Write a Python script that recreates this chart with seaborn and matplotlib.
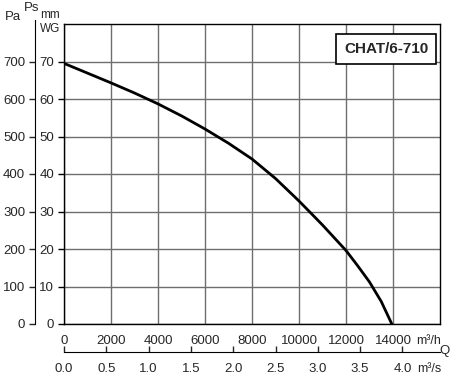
import numpy as np
import pandas as pd
import matplotlib
matplotlib.use("Agg")
import matplotlib.pyplot as plt
import seaborn as sns

# curve (Q in m3/h, Ps in Pa)
flow_m3h = [0, 1000, 2000, 3000, 4000, 5000, 6000, 7000, 8000, 9000,
            10000, 11000, 12000, 12500, 13000, 13500, 13950]
pressure_pa = [695, 669, 643, 616, 587, 555, 520, 482, 440, 388,
               328, 264, 196, 155, 112, 60, 0]

x_ticks = [0, 2000, 4000, 6000, 8000, 10000, 12000, 14000]
pa_ticks = [0, 100, 200, 300, 400, 500, 600, 700]
mm_labels = ["0", "10", "20", "30", "40", "50", "60", "70"]
s_ticks = [0.0, 0.5, 1.0, 1.5, 2.0, 2.5, 3.0, 3.5, 4.0]
model_name = "CHAT/6-710"

sns.set_style("white")
plt.rcParams["font.family"] = ["Liberation Sans", "DejaVu Sans"]
fs = 9.5

W, H = 450, 377
fig = plt.figure(figsize=(W / 100, H / 100), dpi=100)
ax = fig.add_axes([64 / W, (H - 324) / H, 376 / W, 300 / H])

df = pd.DataFrame({"q": flow_m3h, "ps": pressure_pa})
sns.lineplot(data=df, x="q", y="ps", ax=ax, color="black", lw=2.0, zorder=5)

ax.set_xlim(0, 16000)
ax.set_ylim(0, 800)
ax.set_xticks(x_ticks)
ax.set_yticks(pa_ticks)
ax.set_yticklabels(mm_labels)
ax.set_xlabel("")
ax.set_ylabel("")
ax.grid(True, color="#6e6e6e", lw=1.0)
for s in ax.spines.values():
    s.set_visible(True)
    s.set_color("black")
    s.set_linewidth(1.0)
ax.tick_params(axis="both", direction="out", length=4, width=1, color="black",
               labelsize=fs, pad=3)
ax.tick_params(axis="x", pad=4)

# Pa axis on the far left
ax_pa = ax.twinx()
ax_pa.set_ylim(0, 800)
ax_pa.set_yticks(pa_ticks)
ax_pa.yaxis.set_ticks_position("left")
ax_pa.yaxis.set_label_position("left")
ax_pa.spines["left"].set_position(("axes", -29 / 376))
ax_pa.spines["left"].set_bounds(0, 810)
for k in ["right", "top", "bottom"]:
    ax_pa.spines[k].set_visible(False)
ax_pa.spines["left"].set_color("black")
ax_pa.tick_params(axis="y", direction="out", length=4, width=1, labelsize=fs, pad=3)
ax_pa.grid(False)

# secondary flow axis in m3/s
sec = ax.secondary_xaxis(-28 / 300, functions=(lambda q: q / 3600, lambda s: s * 3600))
sec.set_xticks(s_ticks)
sec.set_xticklabels([f"{v:.1f}" for v in s_ticks])
sec.tick_params(axis="x", direction="in", length=4, width=1, labelsize=fs, pad=8)
sec.spines["bottom"].set_color("black")

# axis unit labels
fig.text(13 / W, 1 - 17 / H, "Pa", ha="center", va="center", fontsize=fs)
fig.text(32 / W, 1 - 8 / H, "Ps", ha="center", va="center", fontsize=fs)
fig.text(50 / W, 1 - 22 / H, "mm\nWG", ha="center", va="center", fontsize=8.5,
         linespacing=1.15)
fig.text(429 / W, 1 - 341 / H, "m³/h", ha="center", va="center", fontsize=9)
fig.text(429 / W, 1 - 369 / H, "m³/s", ha="center", va="center", fontsize=9)
fig.text(445 / W, 1 - 351 / H, "Q", ha="center", va="center", fontsize=fs)

# model name box
ax.text((386 - 64) / 376, 1 - (49 - 24) / 300, model_name,
        transform=ax.transAxes, ha="center", va="center", fontsize=11,
        fontweight="bold", zorder=10,
        bbox=dict(boxstyle="square,pad=0.5", fc="white", ec="black", lw=1.2))

fig.savefig("out.png", dpi=100)
